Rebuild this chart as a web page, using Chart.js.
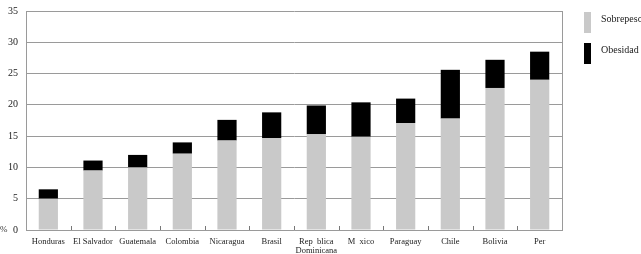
<!DOCTYPE html>
<html>
<head>
<meta charset="utf-8">
<script src="https://cdn.jsdelivr.net/npm/chart.js@4/dist/chart.umd.min.js"></script>
<style>
  html, body { margin: 0; padding: 0; background: #fff; }
  #wrap { width: 641px; height: 254px; position: relative; }
</style>
</head>
<body>
<div id="wrap"><canvas id="chart"></canvas></div>
<script>
  const countries = ["Honduras", "El Salvador", "Guatemala", "Colombia", "Nicaragua", "Brasil",
    ["Rep  blica", "Dominicana"], "M  xico", "Paraguay", "Chile", "Bolivia", "Per"];
  const sobrepeso = [5.0, 9.5, 10.0, 12.2, 14.3, 14.7, 15.3, 14.9, 17.1, 17.8, 22.7, 24.0];
  const obesidad = [1.5, 1.6, 2.0, 1.8, 3.3, 4.1, 4.6, 5.5, 3.9, 7.8, 4.5, 4.5];
  const yTicks = [0, 5, 10, 15, 20, 25, 30, 35];

  const serif = "'Liberation Serif', 'DejaVu Serif', serif";
  const gridGray = "#9a9a9a";

  // small category ticks on the baseline, the % sign and the legend
  const extras = {
    id: "extras",
    afterDraw(chart) {
      const ctx = chart.ctx;
      const area = chart.chartArea;
      const x = chart.scales.x;
      ctx.save();
      ctx.strokeStyle = "#777";
      ctx.lineWidth = 1;
      for (let i = 1; i < countries.length; i += 1) {
        const px = Math.round((x.getPixelForTick(i - 1) + x.getPixelForTick(i)) / 2) + 0.5;
        ctx.beginPath();
        ctx.moveTo(px, area.bottom);
        ctx.lineTo(px, area.bottom - 4);
        ctx.stroke();
      }
      ctx.fillStyle = "#333";
      ctx.font = "9px " + serif;
      ctx.textBaseline = "middle";
      ctx.fillText("%", 0, area.bottom);

      ctx.font = "10px " + serif;
      ctx.textBaseline = "top";
      chart.data.datasets.forEach((ds, i) => {
        const top = 12 + i * 31;
        ctx.fillStyle = ds.backgroundColor;
        ctx.fillRect(584, top, 7, 21);
        ctx.fillStyle = "#222";
        ctx.fillText(ds.label, 601, top + 2);
      });
      ctx.restore();
    }
  };

  new Chart(document.getElementById("chart"), {
    type: "bar",
    data: {
      labels: countries,
      datasets: [
        { label: "Sobrepeso", data: sobrepeso, backgroundColor: "#c9c9c9" },
        { label: "Obesidad", data: obesidad, backgroundColor: "#000000" }
      ]
    },
    options: {
      responsive: true,
      maintainAspectRatio: false,
      animation: false,
      layout: { padding: { top: 0, right: 79, left: 0, bottom: 0 } },
      datasets: { bar: { categoryPercentage: 1, barPercentage: 0.43 } },
      plugins: { legend: { display: false }, tooltip: { enabled: false } },
      scales: {
        x: {
          stacked: true,
          grid: { display: false, drawTicks: false },
          border: { color: gridGray, width: 1 },
          ticks: { color: "#222", font: { family: serif, size: 8.5, lineHeight: 1.0 }, padding: 8, maxRotation: 0, autoSkip: false },
          afterFit: (scale) => { scale.height = 24; }
        },
        y: {
          stacked: true,
          min: 0,
          max: 35,
          afterBuildTicks: (scale) => { scale.ticks = yTicks.map((v) => ({ value: v })); },
          grid: { color: gridGray, lineWidth: 1, drawTicks: false },
          border: { color: gridGray, width: 1 },
          ticks: { color: "#222", font: { family: serif, size: 10 }, padding: 8 },
          afterFit: (scale) => { scale.width = 26; scale.paddingTop = 11; }
        },
        y2: {
          position: "right",
          min: 0,
          max: 35,
          grid: { display: false },
          border: { color: gridGray, width: 1 },
          ticks: { display: false },
          afterFit: (scale) => { scale.width = 0; scale.paddingTop = 0; }
        }
      }
    },
    plugins: [extras]
  });
</script>
</body>
</html>
